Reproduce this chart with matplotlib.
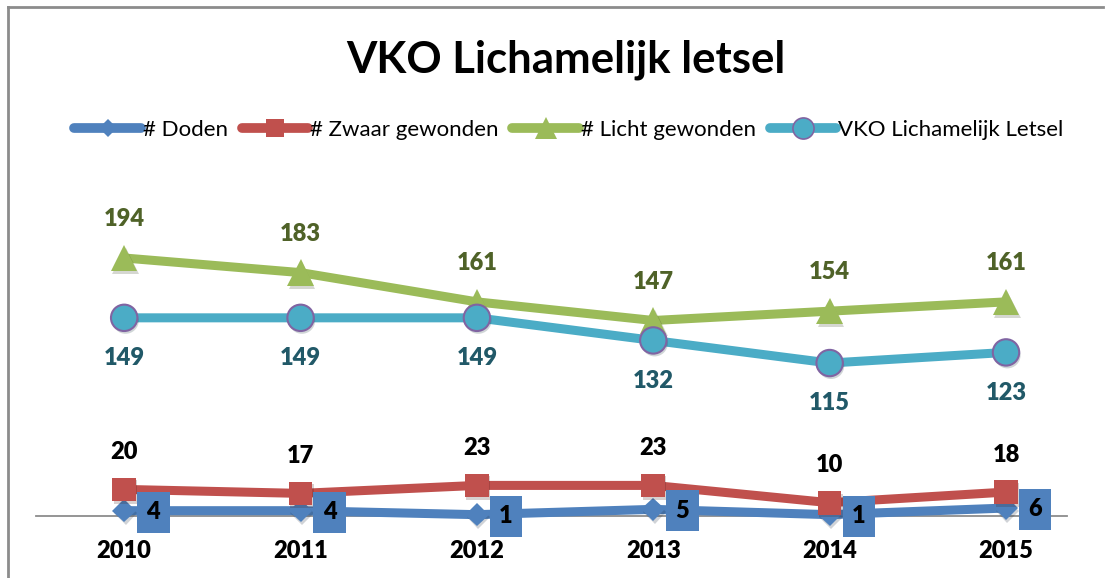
import matplotlib
matplotlib.use('Agg')
import matplotlib.pyplot as plt
from matplotlib.lines import Line2D
import matplotlib.patheffects as pe

plt.rcParams['font.family'] = ['Lato', 'DejaVu Sans']

# data
years = ['2010', '2011', '2012', '2013', '2014', '2015']
doden = [4, 4, 1, 5, 1, 6]
zwaar = [20, 17, 23, 23, 10, 18]
licht = [194, 183, 161, 147, 154, 161]
vko = [149, 149, 149, 132, 115, 123]

blue = '#4F81BD'
red = '#C0504D'
green = '#9BBB59'
teal = '#4BACC6'
purple = '#8064A2'

W, H = 1112, 578
fig = plt.figure(figsize=(W / 100, H / 100), dpi=100)
fig.patch.set_facecolor('white')

# plot area placed in pixels
left, right, bottom, top = 36, 1067, 516, 183.5
ax = fig.add_axes([left / W, (H - bottom) / H, (right - left) / W, (bottom - top) / H])
ax.set_xlim(-0.5, (right - 124) / 176.4)
ax.set_ylim(0, 250)
ax.patch.set_alpha(0)
for s in ['top', 'right', 'left']:
    ax.spines[s].set_visible(False)
ax.spines['bottom'].set_color('#8C8C8C')
ax.spines['bottom'].set_linewidth(1.3)
ax.set_yticks([])
x = list(range(len(years)))
ax.set_xticks(x)
ax.set_xticklabels(years, fontsize=17, fontweight='heavy')
ax.tick_params(axis='x', length=0, pad=17)

shadow = [pe.SimplePatchShadow(offset=(1, -2), alpha=0.2), pe.Normal()]

series = [
    (doden, blue, 'D', 12, blue, '# Doden'),
    (zwaar, red, 's', 17, red, '# Zwaar gewonden'),
    (licht, green, '^', 19, green, '# Licht gewonden'),
    (vko, teal, 'o', 19, purple, 'VKO Lichamelijk Letsel'),
]
handles = []
for vals, col, mk, ms, edge, name in series:
    ax.plot(x, vals, color=col, lw=6.5, solid_capstyle='round', zorder=3, clip_on=False)
    ax.plot(x, vals, ls='none', marker=mk, ms=ms, mfc=col, mec=edge,
            mew=1.5 if mk == 'o' else 0, zorder=4, clip_on=False, path_effects=shadow)
    handles.append(Line2D([0], [0], color=col, lw=7, solid_capstyle='round',
                          marker=mk, ms=ms * 0.8, mfc=col, mec=edge,
                          mew=1.2 if mk == 'o' else 0))

# data labels
lab = dict(ha='center', va='center', fontsize=17, fontweight='heavy',
           textcoords='offset points')
for xi, v in zip(x, licht):
    ax.annotate(str(v), (xi, v), xytext=(0, 28), color='#4F6228', **lab)
for xi, v in zip(x, vko):
    ax.annotate(str(v), (xi, v), xytext=(0, -29), color='#215968', **lab)
for xi, v in zip(x, zwaar):
    ax.annotate(str(v), (xi, v), xytext=(0, 27), color='black', **lab)
for xi, v in zip(x, doden):
    ax.annotate(str(v), (xi, v), xytext=(21, -1), color='black', zorder=6,
                bbox=dict(boxstyle='square,pad=0.4', fc=blue, ec='none'), **lab)

fig.text(566 / W, 1 - 60 / H, 'VKO Lichamelijk letsel', ha='center', va='center',
         fontsize=31.5, fontweight='bold')
fig.legend(handles, [s[5] for s in series], loc='center', bbox_to_anchor=(569 / W, 1 - 130 / H),
           ncol=4, frameon=False, fontsize=16, handlelength=3.0, handletextpad=0.1,
           columnspacing=0.6)

# chart border (left and top edges)
fig.add_artist(Line2D([8 / W, 8 / W], [0, 1 - 7 / H], color='#8C8C8C', lw=2))
fig.add_artist(Line2D([8 / W, 1103 / W], [1 - 7 / H, 1 - 7 / H], color='#8C8C8C', lw=2))

fig.savefig('out.png', dpi=100)
